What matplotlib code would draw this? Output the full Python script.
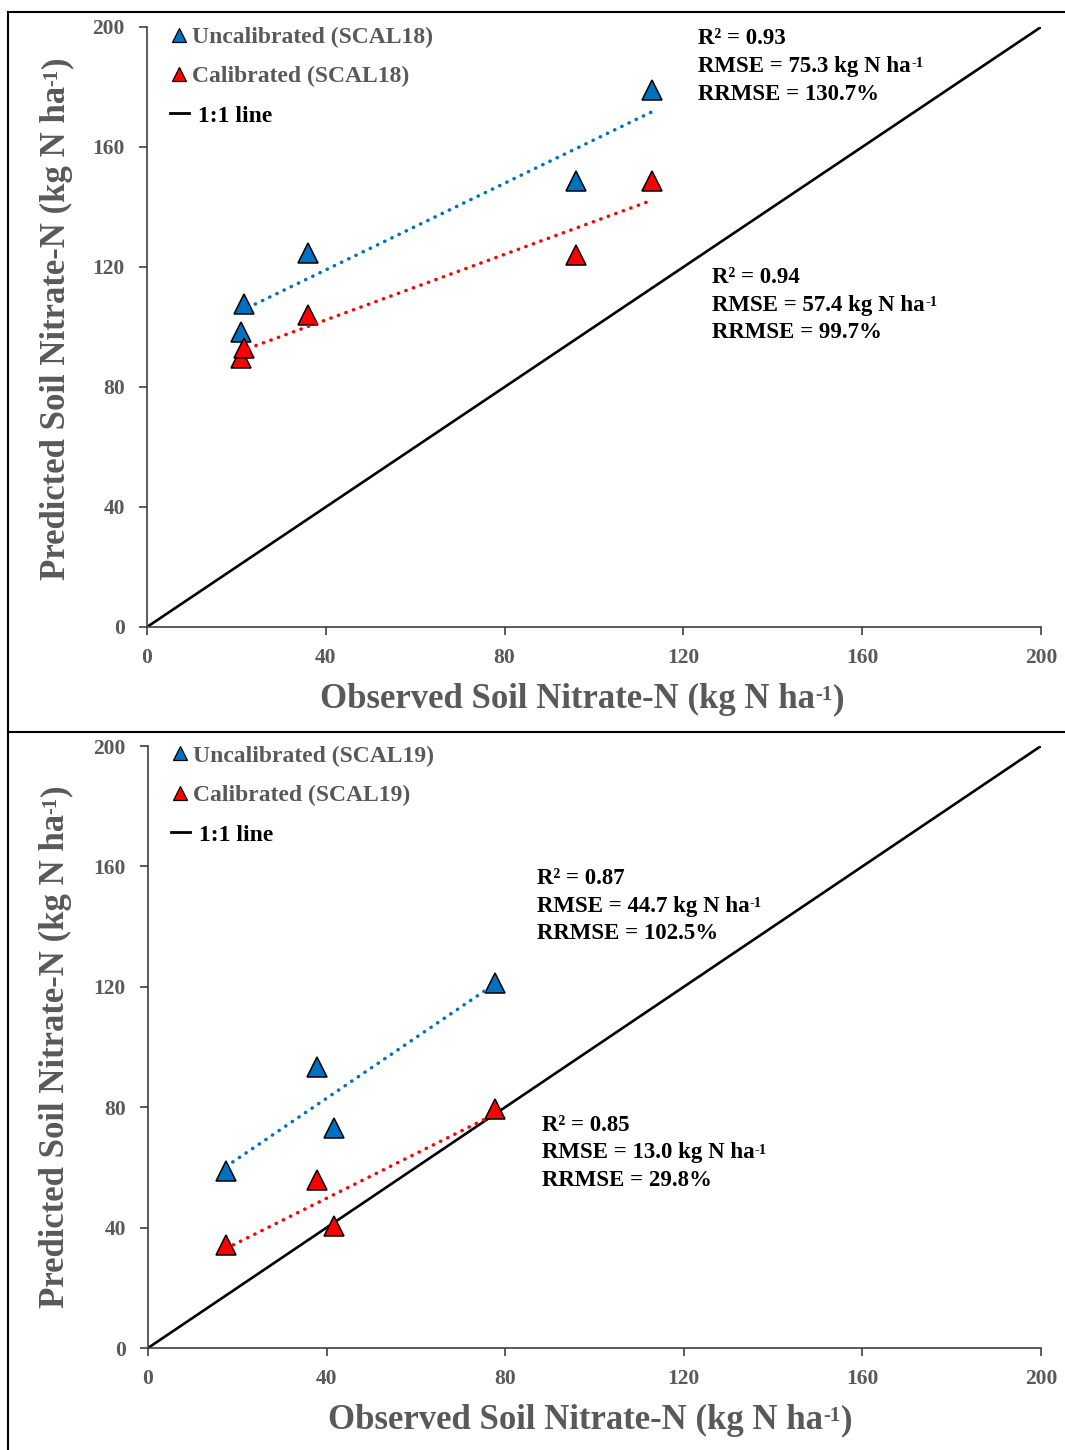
import numpy as np
import matplotlib
matplotlib.use("Agg")
import matplotlib.pyplot as plt
from matplotlib.lines import Line2D

# ---- Fonts
plt.rcParams["font.family"] = ["Liberation Serif", "DejaVu Serif"]
plt.rcParams["font.weight"] = "bold"

# ---- Data: observed vs predicted soil nitrate-N (kg N/ha)
obs_18 = [21.0, 21.7, 36.1, 95.9, 113.0]
uncal_18 = [98.4, 107.7, 124.6, 148.8, 179.0]
cal_18 = [89.7, 93.0, 104.1, 124.1, 148.8]

obs_19 = [17.5, 37.9, 41.6, 77.7]
uncal_19 = [58.9, 93.3, 73.2, 121.3]
cal_19 = [34.3, 55.8, 40.5, 79.3]

stats_18_uncal = ["0.93", "75.3", "130.7"]
stats_18_cal = ["0.94", "57.4", "99.7"]
stats_19_uncal = ["0.87", "44.7", "102.5"]
stats_19_cal = ["0.85", "13.0", "29.8"]

ticks = [0, 40, 80, 120, 160, 200]

BLUE = "#0070C0"
RED = "#FF0000"
GREY = "#595959"


def stats_text(ax, x, y, s):
    # three lines of fit statistics, "-1" as a small raised hyphen
    kw = dict(fontsize=16.5, fontweight="bold", color="black", zorder=6)
    ax.text(x, y, "R\u00b2 = " + s[0], va="top", ha="left", **kw)
    t = ax.text(x, y - 9.2, "RMSE = " + s[1] + " kg N ha", va="top", ha="left", **kw)
    ax.annotate("-1", xy=(1, 1), xycoords=t, xytext=(0.3, -0.8),
                textcoords="offset points", va="top", ha="left",
                fontsize=10.5, fontweight="bold", color="black")
    ax.text(x, y - 18.4, "RRMSE = " + s[2] + "%", va="top", ha="left", **kw)


def axis_label(ax, x, y, base, vertical=False, fs=25, fs_sup=15):
    kw = dict(fontweight="bold", color=GREY, annotation_clip=False)
    if not vertical:
        t = ax.text(x, y, base, transform=ax.transAxes, fontsize=fs,
                    fontweight="bold", color=GREY, ha="left", va="top")
        s = ax.annotate("-1", xy=(1, 1), xycoords=t, xytext=(0.4, -1.5),
                        textcoords="offset points", ha="left", va="top",
                        fontsize=fs_sup, **kw)
        ax.annotate(")", xy=(1, 0), xycoords=(s, t), xytext=(0.4, 0),
                    textcoords="offset points", ha="left", va="bottom",
                    fontsize=fs, **kw)
    else:
        t = ax.text(x, y, base, transform=ax.transAxes, fontsize=fs,
                    fontweight="bold", color=GREY, ha="right", va="bottom",
                    rotation=90)
        s = ax.annotate("-1", xy=(0, 1), xycoords=t, xytext=(1.5, 0.4),
                        textcoords="offset points", ha="left", va="bottom",
                        rotation=90, fontsize=fs_sup, **kw)
        ax.annotate(")", xy=(0, 1), xycoords=(t, s), xytext=(0, 0.4),
                    textcoords="offset points", ha="left", va="bottom",
                    rotation=90, fontsize=fs, **kw)


def panel(ax, obs, uncal, cal, tag, ann_uncal, ann_cal):
    ax.set_xlim(0, 200)
    ax.set_ylim(0, 200)
    ax.plot([0, 200], [0, 200], color="black", lw=1.9, zorder=2)

    obs = np.asarray(obs)
    for yv, c in [(uncal, BLUE), (cal, RED)]:
        ax.plot(obs, yv, ls="none", marker="^", ms=14.5, mfc=c,
                mec="black", mew=1.1, zorder=3)
    for yv, c in [(uncal, BLUE), (cal, RED)]:
        k, b = np.polyfit(obs, yv, 1)
        xx = np.array([obs.min(), obs.max()])
        ax.plot(xx, k * xx + b, color=c, lw=2.5,
                ls=(0, (0.1, 2.2)), dash_capstyle="round", zorder=4)

    for side in ["top", "right"]:
        ax.spines[side].set_visible(False)
    for side in ["left", "bottom"]:
        ax.spines[side].set_color("#404040")
        ax.spines[side].set_linewidth(1.2)
    ax.set_xticks(ticks)
    ax.set_yticks(ticks)
    ax.tick_params(axis="both", direction="out", length=6, width=1.2,
                   color="#404040", labelsize=15.5, labelcolor=GREY)
    ax.tick_params(axis="x", pad=9)
    ax.tick_params(axis="y", pad=10)
    for lab in ax.get_xticklabels() + ax.get_yticklabels():
        lab.set_fontweight("bold")

    handles = [
        Line2D([], [], ls="none", marker="^", ms=10, mfc=BLUE, mec="black", mew=0.9),
        Line2D([], [], ls="none", marker="^", ms=10, mfc=RED, mec="black", mew=0.9),
        Line2D([], [], color="black", lw=2),
    ]
    labels = ["Uncalibrated (" + tag + ")", "Calibrated (" + tag + ")", " 1:1 line"]
    leg = ax.legend(handles, labels, loc="upper left",
                    bbox_to_anchor=(0.015, 1.017), frameon=False,
                    fontsize=17, handlelength=0.8, handletextpad=0.15,
                    labelspacing=0.76, borderaxespad=0)
    for t, c in zip(leg.get_texts(), [GREY, GREY, "black"]):
        t.set_color(c)
        t.set_fontweight("bold")

    stats_text(ax, *ann_uncal[0], ann_uncal[1])
    stats_text(ax, *ann_cal[0], ann_cal[1])


fig = plt.figure(figsize=(10.65, 14.5), dpi=100)
ax1 = fig.add_axes([147 / 1065, 1 - 627 / 1450, 894 / 1065, 600 / 1450])
ax2 = fig.add_axes([148 / 1065, 1 - 1348 / 1450, 893 / 1065, 602 / 1450])

panel(ax1, obs_18, uncal_18, cal_18, "SCAL18",
      ((123.3, 199.5), stats_18_uncal), ((126.4, 120.0), stats_18_cal))
panel(ax2, obs_19, uncal_19, cal_19, "SCAL19",
      ((87.1, 159.5), stats_19_uncal), ((88.2, 77.5), stats_19_cal))

axis_label(ax1, 0.1935, -0.093, "Observed Soil Nitrate-N (kg N ha")
axis_label(ax1, -0.083, 0.078, "Predicted Soil Nitrate-N (kg N ha", vertical=True)
axis_label(ax2, 0.2016, -0.093, "Observed Soil Nitrate-N (kg N ha")
axis_label(ax2, -0.085, 0.066, "Predicted Soil Nitrate-N (kg N ha", vertical=True)

# panel frames
W, H = 1065, 1450
frame = dict(color="black", lw=1.5, transform=fig.transFigure)
fig.add_artist(Line2D([8 / W, 8 / W], [0, 1 - 12 / H], **frame))
fig.add_artist(Line2D([8 / W, 1], [1 - 12 / H, 1 - 12 / H], **frame))
fig.add_artist(Line2D([8 / W, 1], [1 - 732 / H, 1 - 732 / H], **frame))

fig.savefig("out.png", dpi=100)
